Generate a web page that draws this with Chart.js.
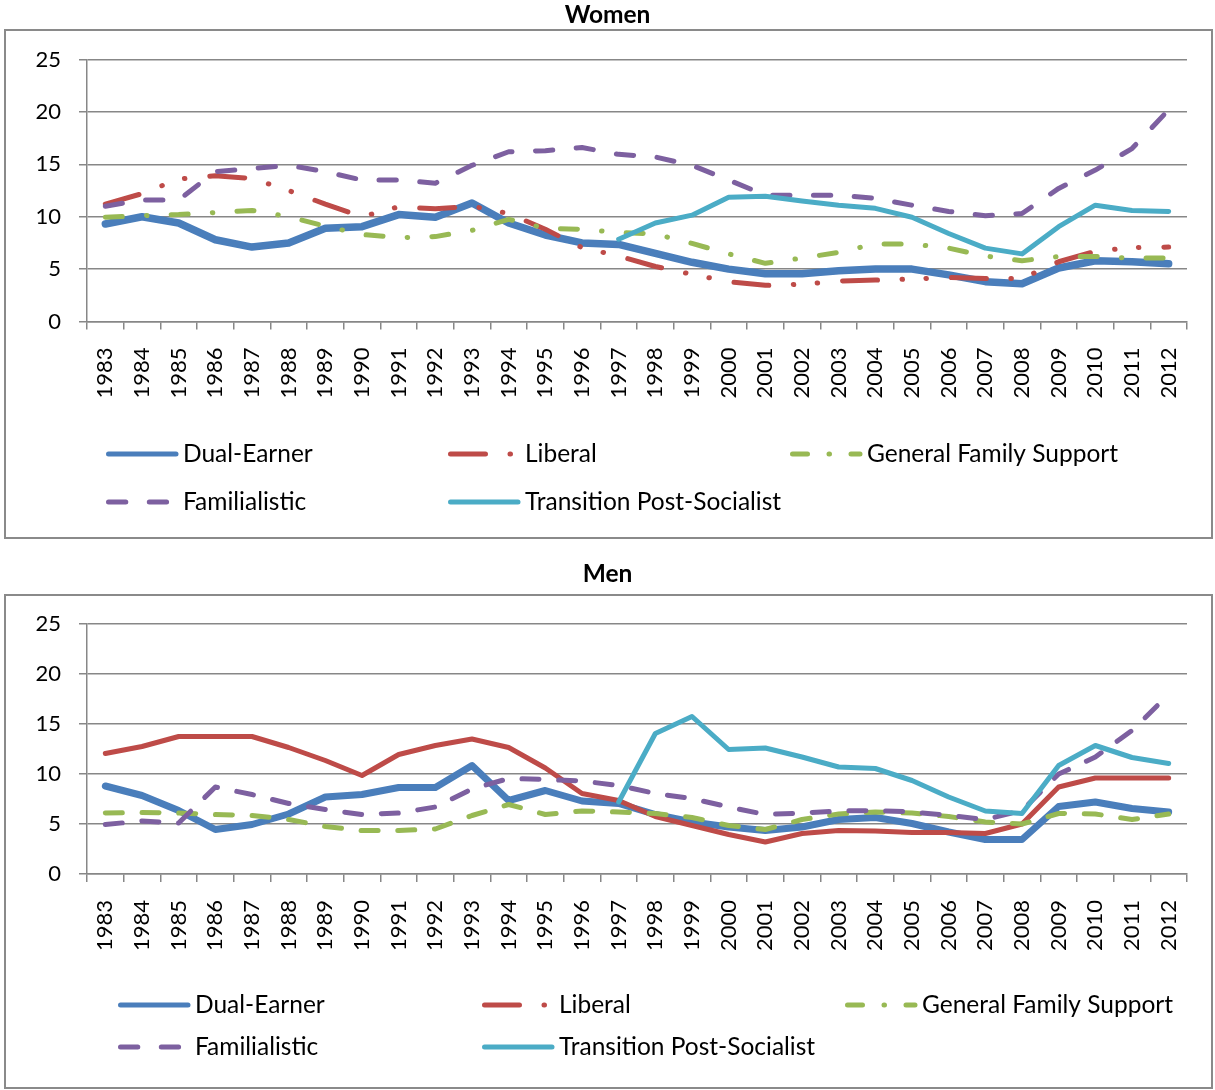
<!DOCTYPE html>
<html>
<head>
<meta charset="utf-8">
<script src="https://cdn.jsdelivr.net/npm/chart.js@4.4.1/dist/chart.umd.min.js"></script>
<style>
  html, body { margin: 0; padding: 0; background: #fff; }
  body { width: 1215px; height: 1090px; position: relative; overflow: hidden; }
  canvas { position: absolute; left: 0; }
  #women { top: 0; }
  #men { top: 555px; }
</style>
</head>
<body>
<canvas id="women" width="1215" height="545"></canvas>
<canvas id="men" width="1215" height="535"></canvas>
<script>
// Survey years (x-axis tick labels)
const years = ['1983','1984','1985','1986','1987','1988','1989','1990','1991','1992',
  '1993','1994','1995','1996','1997','1998','1999','2000','2001','2002',
  '2003','2004','2005','2006','2007','2008','2009','2010','2011','2012'];

// Welfare regime groups
const regimeNames = ['Dual-Earner', 'Liberal', 'General Family Support', 'Familialistic', 'Transition Post-Socialist'];

// Women
const womenDualEarner = [9.3, 10.0, 9.4, 7.8, 7.1, 7.5, 8.9, 9.05, 10.2, 9.95,
  11.3, 9.4, 8.25, 7.5, 7.35, 6.5, 5.65, 5.0, 4.55, 4.55,
  4.85, 5.0, 5.0, 4.45, 3.8, 3.6, 5.1, 5.8, 5.7, 5.5];
const womenLiberal = [11.2, 12.2, 13.6, 13.9, 13.65, 12.5, 11.2, 10.0, 10.95, 10.75,
  11.0, 10.3, 8.8, 7.05, 6.25, 5.25, 4.5, 3.8, 3.45, 3.55,
  3.85, 3.95, 4.05, 4.2, 4.1, 4.1, 5.7, 6.7, 7.05, 7.1];
const womenGeneralFamily = [9.95, 10.1, 10.2, 10.4, 10.6, 10.0, 9.1, 8.3, 8.0, 8.1,
  8.7, 9.75, 8.9, 8.8, 8.5, 8.35, 7.45, 6.45, 5.55, 6.05,
  6.6, 7.4, 7.4, 7.0, 6.25, 5.8, 6.2, 6.2, 6.05, 6.05];
const womenFamilialistic = [11.0, 11.6, 11.6, 14.3, 14.6, 14.9, 14.3, 13.5, 13.5, 13.2,
  14.9, 16.2, 16.3, 16.6, 15.95, 15.7, 14.9, 13.5, 12.05, 12.05,
  12.05, 11.75, 11.1, 10.5, 10.1, 10.3, 12.7, 14.45, 16.5, 20.2];
const womenTransition = [null, null, null, null, null, null, null, null, null, null,
  null, null, null, null, 7.85, 9.4, 10.15, 11.85, 11.95, 11.5,
  11.1, 10.8, 9.95, 8.4, 7.0, 6.45, 9.05, 11.1, 10.6, 10.5];

// Men
const menDualEarner = [8.8, 7.85, 6.35, 4.45, 4.95, 6.0, 7.7, 7.95, 8.65, 8.65,
  10.85, 7.35, 8.35, 7.3, 7.05, 5.95, 5.2, 4.7, 4.35, 4.7,
  5.45, 5.65, 5.05, 4.2, 3.45, 3.45, 6.75, 7.2, 6.55, 6.2];
const menLiberal = [12.05, 12.75, 13.75, 13.75, 13.75, 12.65, 11.35, 9.85, 11.95, 12.85,
  13.5, 12.65, 10.6, 8.05, 7.35, 5.75, 4.85, 3.95, 3.2, 4.05,
  4.35, 4.3, 4.15, 4.15, 4.05, 5.0, 8.7, 9.6, 9.6, 9.6];
const menGeneralFamily = [6.1, 6.15, 6.1, 5.95, 5.85, 5.45, 4.75, 4.35, 4.35, 4.5,
  5.85, 6.95, 5.95, 6.3, 6.2, 6.05, 5.65, 4.85, 4.45, 5.45,
  6.0, 6.2, 6.1, 5.75, 5.2, 5.0, 6.05, 6.0, 5.45, 6.0];
const menFamilialistic = [4.95, 5.3, 5.1, 8.7, 7.95, 7.05, 6.45, 5.95, 6.1, 6.7,
  8.5, 9.55, 9.45, 9.3, 8.85, 8.05, 7.55, 6.7, 5.95, 6.1,
  6.3, 6.35, 6.2, 5.85, 5.45, 6.35, 10.0, 11.7, 14.35, 17.95];
const menTransition = [null, null, null, null, null, null, null, null, null, null,
  null, null, null, null, 7.2, 14.05, 15.75, 12.45, 12.6, 11.7,
  10.7, 10.55, 9.35, 7.7, 6.3, 6.05, 10.85, 12.85, 11.65, 11.05];

// Y-axis ticks
const yMin = 0, yMax = 25, yStep = 5;

// ---- styling ----
const FONT = 'Lato';
const GRID = '#878787';
const COLORS = ['#4A7EBB', '#BE4B48', '#98B954', '#7D60A0', '#4BACC6'];
const DASH = {
  solid: [],
  dashDotDot: [35, 24.5, 0.5, 23.4, 0.5, 25],
  dashDot: [17, 24.2, 0.5, 24.2],
  dashWide: [17.3, 23.5],
  dashTight: [17, 19.7]
};
// legend samples, shared by both panels
const LEGEND_DASH = [DASH.solid, DASH.dashDotDot, [15, 21.5, 0.5, 21.5], DASH.dashWide, DASH.solid];

function buildDatasets(seriesList, dashes, widths) {
  return seriesList.map((values, i) => ({
    label: regimeNames[i],
    data: values,
    borderColor: COLORS[i],
    backgroundColor: COLORS[i],
    borderWidth: widths[i],
    borderDash: dashes[i],
    legendDash: LEGEND_DASH[i],
    borderCapStyle: 'round',
    borderJoinStyle: 'round',
    fill: false,
    spanGaps: false,
    pointRadius: 0,
    tension: 0,
    order: seriesList.length - i   // later series paint over earlier ones
  }));
}

// grey frame around each panel
const framePlugin = {
  id: 'frame',
  beforeDraw(chart, args, opts) {
    const c = chart.ctx;
    c.save();
    c.strokeStyle = '#8a8a8a';
    c.lineWidth = 2;
    c.strokeRect(opts.left, opts.top, opts.right - opts.left, opts.bottom - opts.top);
    c.restore();
  }
};

// three-column legend below the axis
const gridLegendPlugin = {
  id: 'gridLegend',
  afterDraw(chart, args, opts) {
    const c = chart.ctx;
    chart.data.datasets.forEach((ds, i) => {
      const col = i % 3, row = Math.floor(i / 3);
      const x0 = opts.cols[col], y = opts.rows[row];
      c.save();
      c.strokeStyle = ds.borderColor;
      c.lineWidth = 5;
      c.lineCap = 'round';
      c.setLineDash(ds.legendDash);
      c.beginPath();
      c.moveTo(x0 + 2.5, y);
      c.lineTo(x0 + 70, y);
      c.stroke();
      c.setLineDash([]);
      c.fillStyle = '#000';
      c.font = opts.fontSize + 'px ' + FONT;
      c.textBaseline = 'middle';
      c.textAlign = 'left';
      c.fillText(ds.label, x0 + 77, y);
      c.restore();
    });
  }
};

function makePanel(id, title, datasets, geo) {
  return new Chart(document.getElementById(id), {
    type: 'line',
    data: { labels: years, datasets },
    plugins: [framePlugin, gridLegendPlugin],
    options: {
      responsive: false,
      animation: false,
      devicePixelRatio: 1,
      layout: { padding: { left: 28, right: 28, top: 0, bottom: geo.padBottom } },
      plugins: {
        legend: { display: false },
        tooltip: { enabled: false },
        title: {
          display: true, text: title, color: '#000',
          font: { family: FONT, size: 24.5, weight: 'bold' },
          padding: { top: geo.titleTop, bottom: geo.titleBottom }
        },
        frame: geo.frame,
        gridLegend: { cols: geo.legendCols, rows: geo.legendRows, fontSize: 24.5 }
      },
      scales: {
        x: {
          offset: true,
          grid: { offset: true, drawOnChartArea: false, tickLength: 8, color: GRID, lineWidth: 1.5 },
          border: { color: GRID, width: 1.5 },
          ticks: { autoSkip: false, minRotation: 90, maxRotation: 90, padding: 18, color: '#000',
                   font: { family: FONT, size: 22 } },
          afterFit(s) { s.height = 90; }
        },
        y: {
          min: yMin, max: yMax,
          ticks: { stepSize: yStep, padding: 18, color: '#000', font: { family: FONT, size: 22 } },
          grid: { color: GRID, lineWidth: 1.5, tickLength: 8 },
          border: { color: GRID, width: 1.5 },
          afterFit(s) { s.width = 59; }
        }
      }
    }
  });
}

makePanel('women', 'Women',
  buildDatasets([womenDualEarner, womenLiberal, womenGeneralFamily, womenFamilialistic, womenTransition],
    [DASH.solid, DASH.dashDotDot, DASH.dashDot, DASH.dashWide, DASH.solid],
    [7.5, 5, 5, 5, 5]),
  { padBottom: 133.5, titleTop: 0.8, titleBottom: 29.3,
    frame: { left: 5, right: 1212, top: 30, bottom: 538 },
    legendCols: [106, 448, 790], legendRows: [454, 502] });

makePanel('men', 'Men',
  buildDatasets([menDualEarner, menLiberal, menGeneralFamily, menFamilialistic, menTransition],
    [DASH.solid, DASH.solid, DASH.dashTight, DASH.dashTight, DASH.solid],
    [7, 5, 5, 5, 5]),
  { padBottom: 126, titleTop: 4.3, titleBottom: 35.3,
    frame: { left: 5, right: 1212, top: 40, bottom: 533 },
    legendCols: [118, 482, 845], legendRows: [450, 492] });
</script>
</body>
</html>
